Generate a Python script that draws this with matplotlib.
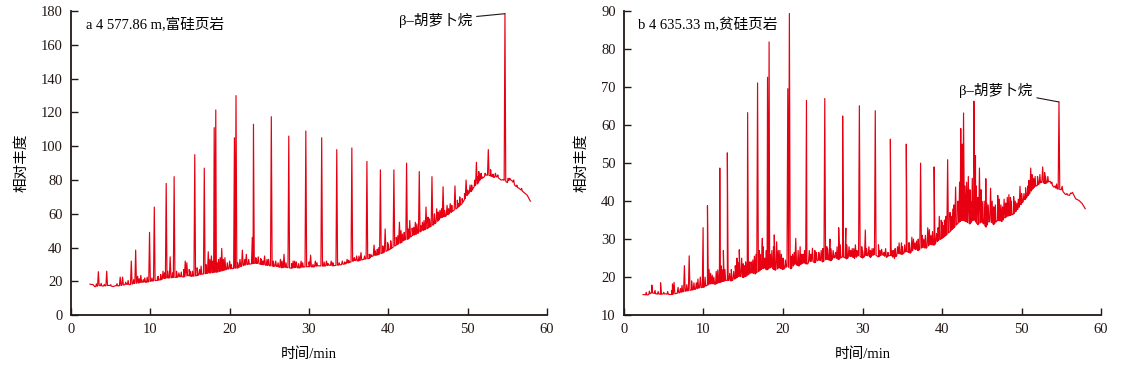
import numpy as np
import matplotlib
matplotlib.use("Agg")
import matplotlib.pyplot as plt

plt.rcParams["font.family"] = ["Liberation Serif", "Noto Sans CJK SC"]

RED = "#e60012"
INK = "#231815"

# panel a: baseline trace (time min, abundance)
base_a = [
    (2.4, 18.3), (2.8, 18.0), (3.0, 16.8), (3.6, 17.5), (4.0, 17.2), (4.8, 17.6), (5.3, 16.9),
    (5.6, 17.4), (6.0, 17.3), (6.6, 17.8), (7.0, 18.3), (7.4, 18.0), (8.0, 18.8), (8.5, 19.0),
    (9.0, 19.5), (9.5, 19.4), (10.0, 20.0), (10.8, 20.6), (11.3, 20.9), (11.8, 21.8), (12.3, 22.0),
    (13.3, 22.4), (13.8, 22.8), (14.2, 22.6), (14.8, 23.5), (15.2, 22.9), (15.9, 23.4), (16.3, 24.0),
    (17.0, 24.6), (17.6, 25.0), (18.5, 25.5), (19.3, 26.5), (19.8, 27.3), (20.3, 27.5), (21.0, 27.9),
    (21.8, 29.5), (22.3, 30.0), (23.3, 30.8), (23.9, 30.2), (24.6, 29.5), (25.5, 29.0), (26.0, 28.8),
    (26.5, 28.0), (27.0, 28.3), (27.8, 27.8), (28.3, 28.2), (28.8, 27.9), (29.3, 28.5), (30.0, 28.7),
    (30.6, 28.5), (31.1, 29.2), (32.0, 29.0), (32.5, 29.6), (33.0, 29.2), (34.0, 29.8), (34.5, 30.3),
    (35.0, 31.0), (35.8, 32.4), (36.2, 32.0), (36.9, 33.0), (37.6, 33.6), (38.0, 35.0), (38.6, 35.6),
    (39.3, 36.8), (39.8, 38.0), (40.3, 39.2), (41.0, 41.5), (41.7, 43.0), (42.0, 44.5), (42.5, 45.0),
    (43.0, 47.0), (43.5, 47.8), (44.2, 49.8), (44.6, 50.5), (45.0, 51.5), (45.7, 53.5), (46.3, 56.0),
    (46.6, 57.5), (47.2, 58.5), (47.7, 60.0), (48.1, 61.5), (48.7, 63.5), (49.3, 66.0), (49.6, 68.5),
    (50.0, 71.5), (50.5, 73.5), (50.8, 76.0), (51.3, 78.0), (51.6, 80.5), (52.0, 81.5), (52.3, 83.0),
    (52.9, 82.5), (53.3, 81.5), (53.7, 82.0), (54.2, 80.0), (54.5, 80.2), (55.0, 78.5), (55.3, 80.5),
    (55.6, 79.5), (56.0, 76.5), (56.5, 75.0), (57.0, 73.0), (57.5, 71.0), (57.9, 67.5),
]

# panel a: peak apexes
peaks_a = [
    (3.45, 25.7), (4.5, 26.0), (6.2, 22.5), (6.5, 22.5), (7.6, 32.0), (8.15, 38.5), (8.4, 23.0),
    (8.8, 23.5), (9.3, 22.0), (9.9, 49.0), (10.5, 64.0), (11.0, 23.0), (11.6, 26.0), (12.0, 78.0),
    (12.5, 34.5), (13.0, 82.0), (13.6, 25.0), (14.4, 32.0), (14.6, 31.0), (15.0, 26.0), (15.6, 95.0),
    (16.2, 27.0), (16.8, 87.0), (17.3, 37.5), (17.7, 35.0), (18.05, 111.0), (18.25, 121.5),
    (18.6, 33.0), (19.0, 39.5), (19.4, 34.0), (20.0, 32.0), (20.6, 105.0), (20.8, 130.0),
    (21.3, 33.0), (21.6, 38.5), (22.1, 36.0), (22.85, 46.0), (23.0, 113.0), (23.6, 34.5),
    (24.0, 33.0), (24.4, 35.0), (24.9, 33.0), (25.25, 117.5), (25.8, 32.0), (26.4, 33.0),
    (26.85, 36.0), (27.45, 106.0), (28.0, 32.0), (28.4, 31.5), (29.0, 32.0), (29.6, 109.0),
    (30.2, 35.5), (30.8, 32.0), (31.6, 105.0), (32.2, 32.0), (32.8, 32.0), (33.5, 98.0),
    (34.2, 32.0), (34.8, 33.0), (35.4, 99.0), (36.0, 35.0), (36.55, 37.0), (37.3, 91.0),
    (37.8, 36.0), (38.2, 41.5), (38.6, 39.0), (39.0, 86.0), (39.6, 51.0), (40.0, 42.0),
    (40.7, 86.0), (41.0, 46.0), (41.4, 55.0), (41.8, 48.0), (42.3, 90.0), (42.7, 56.0),
    (43.2, 52.0), (43.6, 54.0), (43.9, 85.0), (44.3, 55.0), (44.75, 64.0), (45.0, 58.0),
    (45.5, 82.0), (46.1, 63.0), (46.5, 62.0), (46.9, 76.0), (47.4, 65.0), (47.8, 66.0),
    (48.4, 76.5), (48.7, 68.0), (49.0, 70.0), (49.8, 80.0), (50.3, 77.0), (51.1, 90.5),
    (51.4, 85.0), (51.7, 84.0), (52.6, 98.0), (52.9, 86.0), (53.5, 84.0), (54.7, 178.5),
    (55.3, 81.0), (55.8, 80.0),
]

# panel a: small noise spikes on the baseline
noise_a = [
    (2.9, 17.5), (3.2, 18.5), (3.8, 18.8), (4.2, 18.2), (5.0, 18.0), (5.8, 18.6), (6.9, 19.5),
    (7.2, 20.5), (7.9, 21.0), (8.6, 21.5), (9.1, 21.0), (9.6, 22.5), (10.2, 22.0), (10.9, 22.5),
    (11.3, 24.0), (11.8, 25.0), (12.2, 26.0), (12.8, 25.0), (13.3, 26.0), (13.9, 25.5), (14.2, 27.0),
    (14.9, 27.0), (15.3, 26.0), (15.9, 28.0), (16.4, 29.0), (17.0, 30.0), (17.5, 33.0), (17.9, 32.0),
    (18.4, 31.0), (18.8, 34.0), (19.2, 33.0), (19.7, 31.0), (20.2, 30.0), (21.0, 31.0), (21.9, 33.0),
    (22.4, 33.0), (23.3, 34.0), (23.9, 33.5), (24.2, 32.0), (24.7, 33.0), (25.5, 32.0), (26.1, 31.0),
    (26.6, 32.0), (27.1, 31.0), (27.8, 30.5), (28.2, 32.0), (28.7, 30.5), (29.2, 31.0), (30.0, 31.5),
    (30.5, 30.0), (31.0, 31.0), (31.9, 31.5), (32.4, 30.5), (33.0, 31.0), (33.8, 31.0), (34.5, 31.5),
    (35.0, 32.5), (35.7, 34.0), (36.3, 35.0), (37.0, 35.0), (37.6, 36.0), (38.4, 38.0), (38.8, 40.0),
    (39.3, 41.0), (39.9, 43.0), (40.3, 44.0), (41.2, 47.0), (41.6, 50.0), (42.0, 49.0), (42.5, 51.0),
    (43.0, 51.5), (43.4, 55.0), (44.1, 53.0), (44.5, 56.0), (45.2, 57.0), (45.8, 60.0), (46.3, 61.0),
    (46.7, 63.0), (47.1, 62.0), (47.6, 63.0), (48.0, 65.0), (48.9, 66.0), (49.3, 69.0), (49.6, 72.0),
    (50.0, 74.0), (50.5, 77.0), (50.9, 80.0), (51.3, 82.0), (51.8, 82.0), (52.2, 84.0), (52.9, 84.0),
    (53.2, 83.5), (53.8, 83.0), (55.1, 81.0), (56.2, 77.0), (56.8, 75.0),
]

# panel b: baseline trace
base_b = [
    (2.4, 15.4), (3.0, 15.3), (3.5, 15.9), (4.0, 15.6), (4.6, 15.5), (5.2, 15.6), (5.8, 15.4),
    (6.4, 15.6), (7.0, 15.9), (7.5, 16.2), (8.0, 16.4), (8.5, 16.6), (9.0, 16.8), (9.5, 17.2),
    (10.0, 17.3), (10.5, 17.9), (11.0, 18.3), (11.5, 18.1), (12.0, 18.6), (12.5, 18.9), (13.0, 19.2),
    (13.5, 19.0), (14.0, 19.6), (14.5, 20.3), (15.0, 19.9), (15.5, 20.4), (16.0, 21.2), (16.5, 20.8),
    (17.0, 21.6), (17.5, 22.4), (18.0, 21.9), (18.5, 22.6), (19.0, 21.8), (19.5, 22.4), (20.0, 22.0),
    (20.5, 22.8), (21.0, 22.2), (21.5, 23.4), (22.0, 22.9), (22.5, 23.8), (23.0, 23.4), (23.5, 24.3),
    (24.0, 23.8), (24.5, 24.6), (25.0, 24.0), (25.5, 24.8), (26.0, 24.3), (26.5, 25.2), (27.0, 24.6),
    (27.5, 25.4), (28.0, 24.8), (28.5, 25.6), (29.0, 24.9), (29.5, 25.7), (30.0, 25.0), (30.5, 25.8),
    (31.0, 25.2), (31.5, 26.0), (32.0, 25.3), (32.5, 25.9), (33.0, 25.2), (33.5, 25.8), (34.0, 24.9),
    (34.5, 26.2), (35.0, 26.0), (35.5, 26.8), (36.0, 26.3), (36.5, 27.4), (37.0, 27.0), (37.5, 27.8),
    (38.0, 27.6), (38.5, 28.6), (39.0, 28.4), (39.5, 29.6), (40.0, 30.2), (40.5, 31.0), (41.0, 32.0),
    (41.5, 33.0), (42.0, 34.2), (42.5, 35.0), (43.0, 34.6), (43.5, 34.0), (44.0, 35.2), (44.5, 33.8),
    (45.0, 34.6), (45.5, 33.2), (46.0, 34.8), (46.5, 33.8), (47.0, 35.0), (47.5, 34.6), (48.0, 35.8),
    (48.5, 36.2), (49.0, 36.6), (49.5, 37.8), (50.0, 39.4), (50.5, 40.6), (51.0, 42.0), (51.5, 43.5),
    (52.0, 44.2), (52.5, 45.0), (53.0, 44.6), (53.5, 45.2), (54.0, 43.8), (54.5, 43.2), (55.0, 43.0),
    (55.5, 41.8), (56.0, 41.5), (56.4, 42.3), (56.8, 40.6), (57.2, 40.2), (57.6, 39.4), (58.0, 38.0),
]

# panel b: peak apexes
peaks_b = [
    (3.5, 17.9), (4.6, 18.5), (6.1, 18.2), (6.3, 18.6), (6.8, 17.3), (7.6, 23.0), (8.2, 25.6),
    (8.5, 19.0), (9.1, 18.5), (9.6, 20.0), (9.95, 33.0), (10.5, 38.8), (10.7, 22.0), (11.3, 20.0),
    (11.8, 21.9), (12.05, 48.7), (12.3, 22.0), (12.5, 27.0), (13.0, 52.7), (13.3, 21.0),
    (13.8, 21.5), (14.3, 24.0), (14.5, 27.2), (14.8, 25.0), (15.2, 23.0), (15.55, 63.3),
    (16.0, 24.0), (16.4, 25.5), (16.8, 71.1), (17.1, 26.0), (17.4, 30.2), (17.7, 25.0),
    (18.05, 72.6), (18.25, 81.9), (18.6, 27.0), (18.9, 31.1), (19.2, 29.3), (19.6, 27.0),
    (20.0, 25.0), (20.6, 69.6), (20.8, 89.4), (21.2, 26.0), (21.6, 30.2), (22.15, 28.0),
    (22.5, 26.0), (22.95, 66.5), (23.3, 27.0), (23.7, 27.6), (24.2, 26.5), (24.8, 27.0),
    (25.25, 67.0), (25.6, 27.5), (25.9, 30.0), (26.3, 27.0), (26.6, 26.5), (27.0, 33.0),
    (27.5, 62.4), (27.9, 32.9), (28.3, 28.0), (28.7, 27.5), (29.1, 28.5), (29.6, 65.1),
    (30.0, 27.0), (30.35, 32.4), (30.8, 28.0), (31.2, 27.5), (31.6, 63.8), (32.0, 28.5),
    (32.4, 27.3), (32.9, 27.5), (33.5, 56.3), (33.9, 27.0), (34.4, 28.0), (34.9, 29.0),
    (35.5, 55.0), (35.9, 29.0), (36.4, 30.0), (36.8, 29.5), (37.3, 50.0), (37.7, 30.0),
    (38.2, 33.0), (38.6, 31.0), (39.0, 49.0), (39.3, 31.5), (39.65, 36.0), (40.0, 34.5),
    (40.3, 35.0), (40.7, 50.9), (41.0, 35.5), (41.4, 38.0), (41.7, 43.7), (42.0, 40.0),
    (42.35, 59.1), (42.5, 50.0), (42.7, 63.2), (42.9, 44.0), (43.3, 46.5), (43.6, 40.0),
    (44.0, 66.3), (44.2, 52.0), (44.5, 41.0), (44.7, 48.7), (45.0, 40.0), (45.5, 45.9),
    (45.8, 39.0), (46.1, 43.4), (46.5, 38.5), (47.0, 41.5), (47.4, 39.0), (47.8, 40.5),
    (48.4, 41.7), (48.7, 40.0), (49.0, 41.2), (49.4, 39.5), (49.8, 43.9), (50.3, 42.0),
    (50.8, 44.0), (51.15, 48.7), (51.5, 46.0), (52.0, 46.5), (52.65, 49.0), (53.0, 46.5),
    (53.6, 45.2), (54.2, 44.0), (54.7, 66.1), (55.1, 43.9), (55.7, 42.0), (56.15, 42.1),
]

# panel b: small noise spikes on the baseline
noise_b = [
    (2.8, 16.0), (3.2, 16.3), (3.9, 16.5), (4.3, 16.2), (5.0, 16.0), (5.5, 16.2), (6.0, 16.5),
    (7.1, 17.0), (7.3, 17.8), (7.9, 18.0), (8.8, 18.5), (9.3, 19.5), (10.2, 20.0), (10.9, 21.0),
    (11.1, 20.5), (11.6, 21.5), (12.2, 23.0), (12.7, 22.0), (13.5, 22.0), (14.0, 23.0), (14.2, 25.0),
    (15.0, 23.5), (15.3, 24.0), (15.8, 24.0), (16.2, 24.5), (16.6, 26.0), (17.0, 27.0), (17.5, 28.0),
    (17.9, 27.0), (18.4, 26.0), (18.8, 28.0), (19.4, 27.0), (19.8, 26.0), (20.3, 24.5), (21.0, 25.5),
    (21.4, 26.5), (21.9, 27.0), (22.3, 26.0), (22.7, 27.0), (23.5, 26.0), (24.0, 27.0), (24.5, 26.5),
    (25.0, 27.5), (25.5, 28.0), (26.0, 27.5), (26.8, 28.0), (27.2, 28.5), (28.0, 28.5), (28.5, 27.0),
    (28.9, 27.5), (29.3, 27.0), (29.9, 28.0), (30.5, 27.5), (31.0, 27.0), (31.4, 27.5), (32.2, 27.0),
    (32.7, 26.5), (33.2, 26.5), (33.7, 27.0), (34.1, 27.5), (34.6, 29.0), (35.0, 28.0), (35.3, 28.5),
    (35.8, 29.0), (36.2, 30.5), (36.6, 29.0), (37.0, 30.0), (37.5, 31.0), (37.9, 31.0), (38.4, 32.5),
    (38.8, 32.0), (39.5, 33.0), (39.9, 35.0), (40.2, 33.5), (40.5, 36.0), (41.0, 37.0), (41.2, 36.0),
    (41.5, 39.0), (42.0, 40.0), (42.2, 45.0), (42.55, 55.0), (43.1, 45.0), (43.5, 43.0), (43.8, 46.0),
    (44.3, 44.0), (44.9, 43.0), (45.3, 40.0), (45.6, 39.5), (46.3, 40.0), (46.7, 39.0), (47.2, 40.5),
    (47.6, 38.5), (48.0, 39.5), (48.2, 41.0), (48.6, 41.0), (49.2, 40.0), (49.6, 40.5), (50.0, 42.0),
    (50.5, 43.5), (50.9, 45.5), (51.3, 47.0), (51.7, 46.5), (52.3, 47.0), (52.9, 47.5), (53.3, 46.5),
    (53.8, 45.0), (54.4, 44.5),
]

titles = ["a 4 577.86 m,富硅页岩", "b 4 635.33 m,贫硅页岩"]
marker_label = "β–胡萝卜烷"
carotane_a = (54.7, 178.5)
carotane_b = (54.7, 66.1)


def build_trace(base, peak_sets):
    bt = np.array([p[0] for p in base])
    bv = np.array([p[1] for p in base])
    t_list, v_list = list(bt), list(bv)
    for peaks, half_width in peak_sets:
        for t, v in peaks:
            for dt in (-half_width, half_width):
                t_list.append(t + dt)
                v_list.append(float(np.interp(t + dt, bt, bv)))
            t_list.append(t)
            v_list.append(v)
    order = np.argsort(t_list, kind="stable")
    return np.array(t_list)[order], np.array(v_list)[order]


def style_axis(ax, ylim, yticks):
    ax.set_xlim(0, 60)
    ax.set_ylim(*ylim)
    ax.set_xticks(np.arange(0, 61, 10))
    ax.set_yticks(yticks)
    for side in ("top", "right"):
        ax.spines[side].set_visible(False)
    for side in ("left", "bottom"):
        ax.spines[side].set_linewidth(1.3)
        ax.spines[side].set_color(INK)
    ax.tick_params(direction="in", length=5, width=1.0, colors=INK, labelsize=10.5, pad=6)
    ax.set_xlabel("时间/min", fontsize=10.5, labelpad=8)
    ax.set_ylabel("相对丰度", fontsize=10.5, labelpad=9)


fig = plt.figure(figsize=(11.47, 3.72), dpi=100)
ax_a = fig.add_axes([0.0619, 0.153, 0.415, 0.817])
ax_b = fig.add_axes([0.544, 0.153, 0.416, 0.817])

ta, va = build_trace(base_a, [(peaks_a, 0.1), (noise_a, 0.08)])
ax_a.plot(ta, va, color=RED, linewidth=0.85)
style_axis(ax_a, (0, 180), np.arange(0, 181, 20))
ax_a.text(0.032, 0.955, titles[0], transform=ax_a.transAxes, fontsize=10.5, va="center", ha="left")
ax_a.annotate(marker_label, xy=carotane_a, xytext=(50.6, 174.5), fontsize=10.5, ha="right", va="center",
              arrowprops=dict(arrowstyle="-", color=INK, lw=0.8, shrinkA=1, shrinkB=0))

tb, vb = build_trace(base_b, [(peaks_b, 0.1), (noise_b, 0.08)])
ax_b.plot(tb, vb, color=RED, linewidth=0.85)
style_axis(ax_b, (10, 90), np.arange(10, 91, 10))
ax_b.text(0.029, 0.955, titles[1], transform=ax_b.transAxes, fontsize=10.5, va="center", ha="left")
ax_b.annotate(marker_label, xy=carotane_b, xytext=(51.4, 69.2), fontsize=10.5, ha="right", va="center",
              arrowprops=dict(arrowstyle="-", color=INK, lw=0.8, shrinkA=1, shrinkB=0))

fig.savefig("out.png", dpi=100)
